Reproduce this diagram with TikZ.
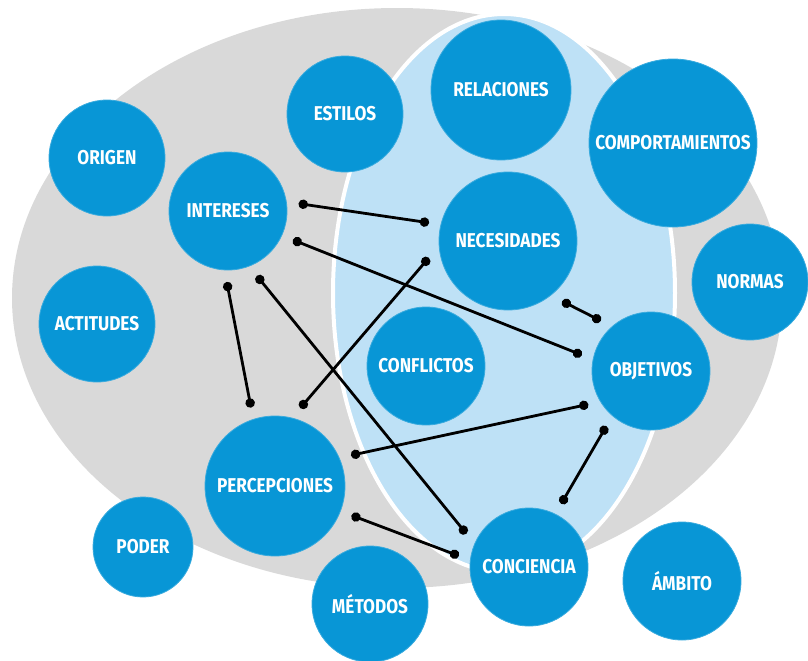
\documentclass[tikz,border=0pt]{standalone}
\usepackage{fontspec}
\newfontfamily\lblfont[FakeStretch=0.86]{Fira Sans}
\usetikzlibrary{arrows.meta}
\definecolor{bubble}{RGB}{8,150,214}
\definecolor{pale}{RGB}{190,225,246}
\definecolor{backgray}{RGB}{217,217,217}

\begin{document}
\begin{tikzpicture}[x=0.75pt,y=0.75pt,yscale=-1,xscale=1,
  bub/.style={circle,fill=bubble,draw=bubble!80!white,line width=0.6pt,inner sep=0pt,outer sep=9pt,minimum size={#1*1.5pt},text=white,font=\lblfont\bfseries\fontsize{15}{15}\selectfont},
  bub/.default=59,
  link/.style={line width=2.1pt,{Circle[length=7pt]}-{Circle[length=7pt]}}]
\useasboundingbox (0,0) rectangle (808,661);

%Shape: Ellipse [gray]
\fill [backgray] (397,298) ellipse (288.75pt and 217.5pt);
%Shape: Ellipse [pale]
\draw [draw=white,line width=3pt,fill=pale] (504,293) ellipse (128.25pt and 209.25pt);

% Text Node
\node [bub=58] (origen) at (107,158) {ORIGEN};
% Text Node
\node [bub=58] (estilos) at (345,114) {ESTILOS};
% Text Node
\node [bub] (intereses) at (228,211) {INTERESES};
% Text Node
\node [bub=58] (actitudes) at (97,324) {ACTITUDES};
% Text Node
\node [bub=70] (relaciones) at (501,90) {RELACIONES};
% Text Node
\node [bub=84] (comport) at (673,143) {COMPORTAMIENTOS};
% Text Node
\node [bub=69] (necesidades) at (508,241) {NECESIDADES};
% Text Node
\node [bub=58] (normas) at (750,282) {NORMAS};
% Text Node
\node [bub] (conflictos) at (426,366) {CONFLICTOS};
% Text Node
\node [bub] (objetivos) at (651,371) {OBJETIVOS};
% Text Node
\node [bub=70] (percepciones) at (275,486) {PERCEPCIONES};
% Text Node
\node [bub=50] (poder) at (143,547) {PODER};
% Text Node
\node [bub=58] (metodos) at (370,604) {MÉTODOS};
% Text Node
\node [bub] (conciencia) at (529,567) {CONCIENCIA};
% Text Node
\node [bub] (ambito) at (682,581) {ÁMBITO};

%Links
\draw [link] (intereses.6) -- (necesidades.167);
\draw [link] (intereses.-24) -- (objetivos.167);
\draw [link] (intereses.-91) -- (percepciones.107);
\draw [link] (intereses.-66) -- (conciencia.152);
\draw [link] (necesidades.192) -- (percepciones.72);
\draw [link] (necesidades.-48) -- (objetivos.135);
\draw [link] (percepciones.22) -- (objetivos.208);
\draw [link] (percepciones.-21) -- (conciencia.171);
\draw [link] (objetivos.-129) -- (conciencia.63);

\end{tikzpicture}
\end{document}
